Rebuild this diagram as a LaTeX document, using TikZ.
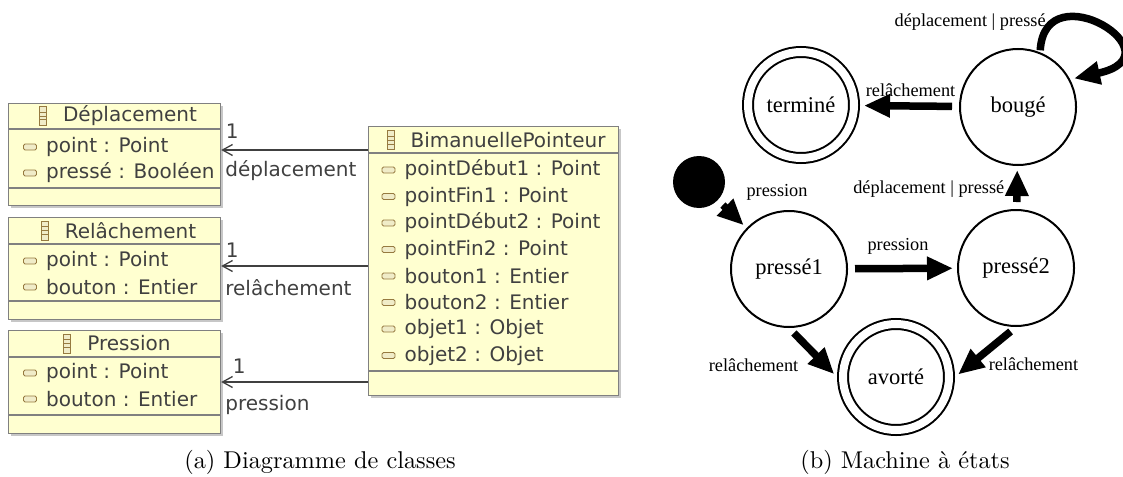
\documentclass[tikz,border=0pt]{standalone}
\usepackage{fontspec}
\usepackage{tikz}
\usetikzlibrary{positioning,arrows.meta,shadows,calc}

\newfontfamily\umlfont{DejaVu Sans}
\newfontfamily\fsmfont{Liberation Serif}

\definecolor{umlfill}{RGB}{255,255,208}
\definecolor{umlline}{RGB}{128,128,128}
\definecolor{umltext}{RGB}{64,64,64}
\definecolor{iconbrown}{RGB}{150,122,64}
\definecolor{iconfill}{RGB}{240,236,200}

\tikzset{
    classbox/.style={draw=umlline, fill=umlfill, line width=1.2pt, anchor=north west, inner sep=0pt,
        drop shadow={shadow xshift=2.5pt, shadow yshift=-2.5pt, fill=black!22, opacity=1}},
    sep/.style={draw=umlline, line width=1.2pt},
    title/.style={font=\umlfont\fontsize{20}{24}\selectfont, text=umltext, inner sep=0pt},
    attrib/.style={font=\umlfont\fontsize{20}{24}\selectfont, text=umltext, inner sep=0pt, anchor=west},
    classicon/.style={draw=iconbrown, fill=iconfill, line width=0.8pt, minimum width=7pt, minimum height=19pt, inner sep=0pt,
        path picture={\foreach \f in {0.3,0.5,0.7}
            \draw[iconbrown, line width=0.6pt] ($(path picture bounding box.south west)!\f!(path picture bounding box.north west)$)
                -- ($(path picture bounding box.south east)!\f!(path picture bounding box.north east)$);}},
    attricon/.style={draw=iconbrown, fill=iconfill, line width=0.8pt, minimum width=13pt, minimum height=6pt, inner sep=0pt, rounded corners=1.5pt},
    assoc/.style={draw=umltext, line width=1.3pt, -{Straight Barb[length=10pt,width=11pt]}},
    role/.style={font=\umlfont\fontsize{20}{24}\selectfont, text=umltext, inner sep=0pt},
    state/.style={circle, draw, line width=2pt, minimum size=116pt, inner sep=0pt, font=\fsmfont\fontsize{22.5}{26}\selectfont},
    final/.style={state, minimum size=106pt, double, double distance=8pt, outer sep=6pt},
    init/.style={circle, fill=black, minimum size=52pt, inner sep=0pt},
    trans/.style={line width=7.5pt, -{Triangle[length=26pt,width=22pt]}, shorten <=7pt, shorten >=4pt},
    lbl/.style={font=\fsmfont\fontsize{18.3}{22}\selectfont, inner sep=0pt},
    caption/.style={inner sep=0pt, anchor=base}
}

\begin{document}
\begin{tikzpicture}[x=1pt, y=-1pt]
    \useasboundingbox (0,0) rectangle (1123,476);

    % diagramme de classes
    \node[classbox, minimum width=212pt, minimum height=102pt] (depl) at (8,103) {};
    \node[classbox, minimum width=212pt, minimum height=102pt] (relach) at (8,217) {};
    \node[classbox, minimum width=212pt, minimum height=103pt] (press) at (8,330) {};
    \node[classbox, minimum width=250pt, minimum height=269pt] (bimanuel) at (368,126) {};

    \draw[sep] (depl.west |- 0,129) -- (depl.east |- 0,129);
    \draw[sep] (depl.west |- 0,188) -- (depl.east |- 0,188);
    \draw[sep] (relach.west |- 0,244) -- (relach.east |- 0,244);
    \draw[sep] (relach.west |- 0,301) -- (relach.east |- 0,301);
    \draw[sep] (press.west |- 0,357) -- (press.east |- 0,357);
    \draw[sep] (press.west |- 0,415) -- (press.east |- 0,415);
    \draw[sep] (bimanuel.west |- 0,153) -- (bimanuel.east |- 0,153);
    \draw[sep] (bimanuel.west |- 0,371) -- (bimanuel.east |- 0,371);

    \node[title] (tdepl) at (130,116) {Déplacement};
    \node[classicon, left=16pt of tdepl] (idepl) {};
    \node[title] (trelach) at (130.5,230.5) {Relâchement};
    \node[classicon, left=16pt of trelach] (irelach) {};
    \node[title] (tpress) at (129,343.5) {Pression};
    \node[classicon, left=16pt of tpress] (ipress) {};
    \node[title] (tbimanuel) at (508,140) {BimanuellePointeur};
    \node[classicon, left=16pt of tbimanuel] (ibimanuel) {};

    \foreach \y/\txt [count=\i] in {147/point : Point, 173/pressé : Booléen,
                                    261/point : Point, 287/bouton : Entier,
                                    373/point : Point, 399/bouton : Entier} {
        \node[attricon] (a\i) at (30,\y) {};
        \node[attrib, right=9pt of a\i] {\txt};
    }
    \foreach \txt [count=\i] in {pointDébut1 : Point, pointFin1 : Point, pointDébut2 : Point, pointFin2 : Point,
                                 bouton1 : Entier, bouton2 : Entier, objet1 : Objet, objet2 : Objet} {
        \node[attricon] (b\i) at (388.5,143.5+26.5*\i) {};
        \node[attrib, right=9pt of b\i] {\txt};
    }

    \draw[assoc] (bimanuel.west |- 0,150) -- (depl.east |- 0,150)
        node[role, pos=1, xshift=11pt, yshift=19pt] {1}
        node[role, pos=1, anchor=west, xshift=3.5pt, yshift=-21pt] {déplacement};
    \draw[assoc] (bimanuel.west |- 0,266) -- (relach.east |- 0,266)
        node[role, pos=1, xshift=11pt, yshift=16pt] {1}
        node[role, pos=1, anchor=west, xshift=3.5pt, yshift=-22pt] {relâchement};
    \draw[assoc] (bimanuel.west |- 0,382) -- (press.east |- 0,382)
        node[role, pos=1, xshift=18pt, yshift=16pt] {1}
        node[role, pos=1, anchor=west, xshift=3.5pt, yshift=-23pt] {pression};

    \node[caption] (capa) at (320,468) {\scalebox{2.43}{(a) Diagramme de classes}};

    % machine a etats
    \node[init] (init) at (699,182) {};
    \node[state] (presse1) at (789,269) {pressé1};
    \node[state] (presse2) at (1016,268) {pressé2};
    \node[final] (avorte) at (896,377) {avorté};
    \node[state] (bouge) at (1018,107) {bougé};
    \node[final] (termine) at (801,105) {terminé};

    \draw[trans] (init) -- node[lbl, midway, xshift=44.8pt, yshift=22pt] {pression} (presse1);
    \draw[trans] (presse1) -- node[lbl, midway, xshift=-4.5pt, yshift=22.5pt] {pression} (presse2);
    \draw[trans] (presse2) -- node[lbl, midway, left=9pt, yshift=-2pt] {déplacement | pressé} (bouge);
    \draw[trans] (bouge) -- node[lbl, midway, xshift=1pt, yshift=16pt] {relâchement} (termine);
    \draw[trans, shorten <=2pt] (bouge.68) .. controls (1045,-30) and (1182,55) ..
        node[lbl, pos=0, xshift=-70pt, yshift=30.5pt] {déplacement | pressé} (bouge.28);
    \draw[trans] (presse1.south) -- node[lbl, midway, anchor=east, xshift=-11pt, yshift=-12.5pt] {relâchement} (avorte.west);
    \draw[trans] (presse2.south) -- node[lbl, midway, anchor=west, xshift=-0.5pt, yshift=-12.5pt] {relâchement} (avorte.east);

    \node[caption] (capb) at (905,468) {\scalebox{2.43}{(b) Machine à états}};
\end{tikzpicture}
\end{document}
